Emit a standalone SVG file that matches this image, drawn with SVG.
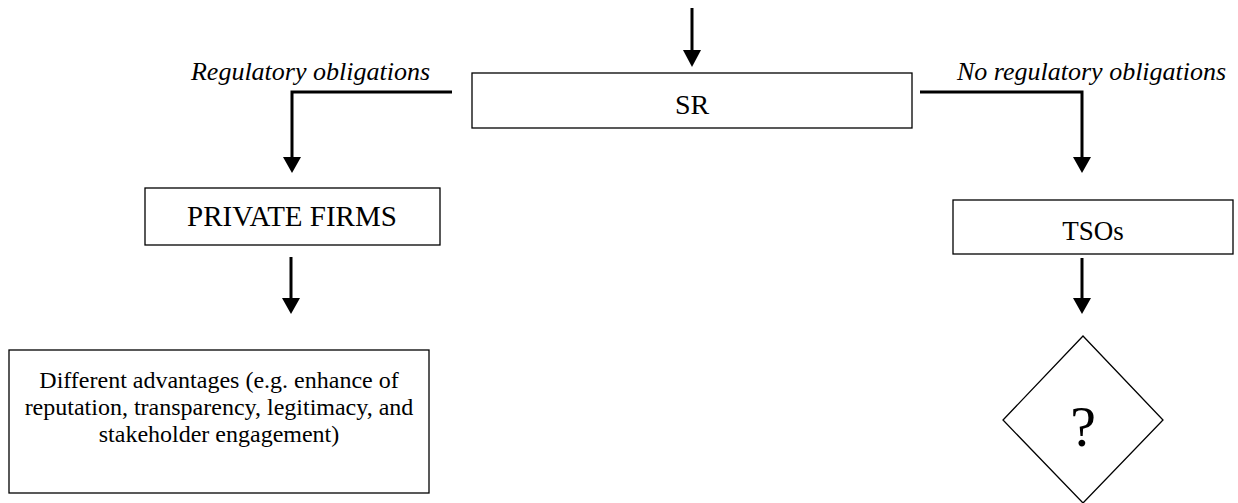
<svg xmlns="http://www.w3.org/2000/svg" width="1238" height="503" viewBox="0 0 1238 503">
<style>
.box{fill:#fff;stroke:#000;stroke-width:1.3}
text{font-family:'Liberation Serif','DejaVu Serif',serif;fill:#000}
.t{text-anchor:middle}
.lbl{font-style:italic}
.c{fill:none;stroke:#000;stroke-width:3}
</style>
<g id="connectors">
<line class="c" x1="692" y1="8" x2="692" y2="52"/>
<polygon points="683,50 701,50 692,67" fill="#000"/>
<polyline class="c" points="452,92 292,92 292,160"/>
<polygon points="283,157 301,157 292,173" fill="#000"/>
<polyline class="c" points="920,92 1082,92 1082,160"/>
<polygon points="1073,157 1091,157 1082,173" fill="#000"/>
<line class="c" x1="291" y1="257" x2="291" y2="300"/>
<polygon points="282,298 300,298 291,314" fill="#000"/>
<line class="c" x1="1082" y1="258" x2="1082" y2="300"/>
<polygon points="1073,298 1091,298 1082,314" fill="#000"/>
</g>
<g id="label-reg">
<text class="lbl" x="430" y="80" font-size="26" text-anchor="end">Regulatory obligations</text>
</g>
<g id="label-noreg">
<text class="lbl" x="957" y="80" font-size="26">No regulatory obligations</text>
</g>
<g id="node-sr">
<rect class="box" x="472" y="73" width="440" height="55"/>
<text class="t" x="692" y="114" font-size="28">SR</text>
</g>
<g id="node-private">
<rect class="box" x="145" y="188" width="295" height="57"/>
<text class="t" x="292" y="226" font-size="29">PRIVATE FIRMS</text>
</g>
<g id="node-advantages">
<rect class="box" x="9" y="350" width="420" height="143"/>
<text class="t" font-size="24"><tspan x="219" y="388">Different advantages (e.g. enhance of</tspan><tspan x="219" y="415">reputation, transparency, legitimacy, and</tspan><tspan x="219" y="442">stakeholder engagement)</tspan></text>
</g>
<g id="node-tsos">
<rect class="box" x="953" y="200" width="280" height="54"/>
<text class="t" x="1093" y="240" font-size="27">TSOs</text>
</g>
<g id="node-question">
<polygon class="box" points="1083,336 1163,420 1083,503 1003,420"/>
<text class="t" x="1083" y="446" font-size="58">?</text>
</g>
</svg>
